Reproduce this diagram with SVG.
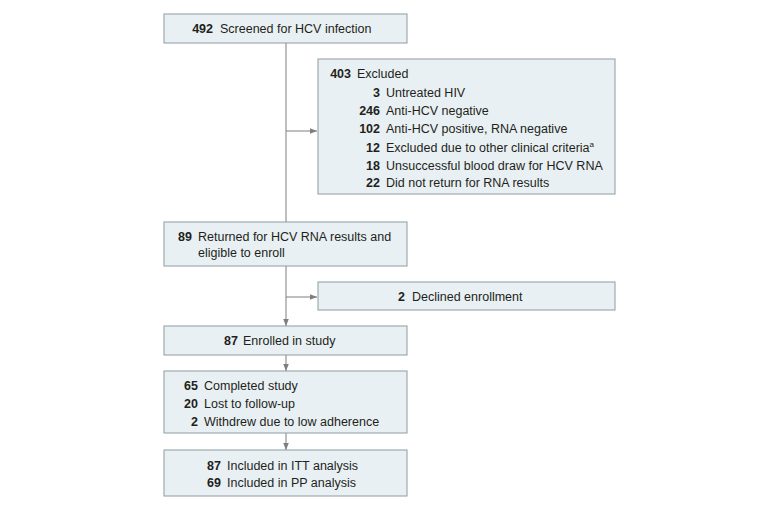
<svg xmlns="http://www.w3.org/2000/svg" width="780" height="508" viewBox="0 0 780 508">
<style>
.box{fill:#e9f0f3;stroke:#8e9ca2;stroke-width:1}
text{font-family:"Liberation Sans",Arial,sans-serif;font-size:12.5px;fill:#231f20}
.n{font-weight:bold;text-anchor:end}
.c{stroke:#7f7f7f;stroke-width:1;fill:none}
</style>
<defs><marker id="a" viewBox="0 0 10 10" refX="10" refY="5" markerWidth="7" markerHeight="7" orient="auto" markerUnits="userSpaceOnUse"><path d="M0,1 L10,5 L0,9 z" fill="#7f7f7f"/></marker></defs>
<rect width="780" height="508" fill="#fff"/>
<g id="connectors">
<path class="c" d="M286,43 V222"/>
<path class="c" d="M286,131 H317" marker-end="url(#a)"/>
<path class="c" d="M286,266 V326" marker-end="url(#a)"/>
<path class="c" d="M286,297 H317" marker-end="url(#a)"/>
<path class="c" d="M286,355 V371" marker-end="url(#a)"/>
<path class="c" d="M286,433 V450" marker-end="url(#a)"/>
</g>
<g id="screened"><rect class="box" x="164" y="14" width="243" height="29"/>
<text class="n" x="213" y="33">492</text><text x="220" y="33">Screened for HCV infection</text></g>
<g id="excluded"><rect class="box" x="318" y="59" width="297" height="135"/>
<text class="n" x="351" y="78">403</text><text x="357" y="78">Excluded</text>
<text class="n" x="380" y="97">3</text><text x="386" y="97">Untreated HIV</text>
<text class="n" x="380" y="115">246</text><text x="386" y="115">Anti-HCV negative</text>
<text class="n" x="380" y="133">102</text><text x="386" y="133">Anti-HCV positive, RNA negative</text>
<text class="n" x="380" y="152">12</text><text x="386" y="152">Excluded due to other clinical criteria<tspan font-size="8" dy="-5">a</tspan></text>
<text class="n" x="380" y="170">18</text><text x="386" y="170">Unsuccessful blood draw for HCV RNA</text>
<text class="n" x="380" y="187">22</text><text x="386" y="187">Did not return for RNA results</text></g>
<g id="returned"><rect class="box" x="164" y="222" width="243" height="44"/>
<text class="n" x="192" y="241">89</text><text x="198" y="241">Returned for HCV RNA results and</text>
<text x="198" y="257">eligible to enroll</text></g>
<g id="declined"><rect class="box" x="318" y="282" width="297" height="28"/>
<text class="n" x="405" y="301">2</text><text x="412" y="301">Declined enrollment</text></g>
<g id="enrolled"><rect class="box" x="164" y="326" width="243" height="29"/>
<text class="n" x="238" y="345">87</text><text x="243" y="345">Enrolled in study</text></g>
<g id="completed"><rect class="box" x="164" y="371" width="243" height="62"/>
<text class="n" x="198" y="390">65</text><text x="204" y="390">Completed study</text>
<text class="n" x="198" y="408">20</text><text x="204" y="408">Lost to follow-up</text>
<text class="n" x="198" y="426">2</text><text x="204" y="426">Withdrew due to low adherence</text></g>
<g id="analysis"><rect class="box" x="164" y="450" width="243" height="46"/>
<text class="n" x="221" y="470">87</text><text x="227" y="470">Included in ITT analysis</text>
<text class="n" x="221" y="487">69</text><text x="227" y="487">Included in PP analysis</text></g>
</svg>
